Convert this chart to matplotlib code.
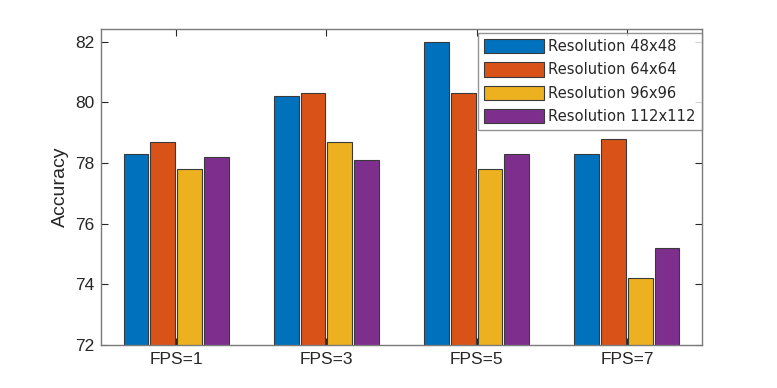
import matplotlib
matplotlib.use("Agg")
import matplotlib.pyplot as plt
import numpy as np

plt.rcParams['font.family'] = ['Liberation Sans', 'DejaVu Sans']

groups = ["FPS=1", "FPS=3", "FPS=5", "FPS=7"]
series_names = ["Resolution 48x48", "Resolution 64x64", "Resolution 96x96", "Resolution 112x112"]
res48 = [78.3, 80.2, 82.0, 78.3]
res64 = [78.7, 80.3, 80.3, 78.8]
res96 = [77.8, 78.7, 77.8, 74.2]
res112 = [78.2, 78.1, 78.3, 75.2]
yticks = [72, 74, 76, 78, 80, 82]

colors = ["#0072BD", "#D95319", "#EDB120", "#7E2F8E"]
series = [res48, res64, res96, res112]

fig = plt.figure(figsize=(7.77, 3.88), dpi=100)
ax = fig.add_axes([101/777, 1-345/388, (702-101)/777, (345-29)/388])

x = np.arange(1, len(groups)+1)
slot = 0.178
width = 0.165
for i, (vals, name, c) in enumerate(zip(series, series_names, colors)):
    ax.bar(x + (i-1.5)*slot, vals, width=width, color=c, edgecolor="#3a3a3a",
           linewidth=0.8, label=name)

ax.set_ylim(72, 82.42)
ax.set_xlim(0.5, 4.5)
ax.set_xticks(x)
ax.set_xticklabels(groups)
ax.set_yticks(yticks)
ax.set_ylabel("Accuracy", fontsize=14, color="#262626", labelpad=4)
ax.tick_params(direction="in", top=True, right=True, labelsize=12.5, colors="#262626",
               length=5, width=0.8, pad=5)
for s in ax.spines.values():
    s.set_color("#7a7a7a")
    s.set_linewidth(1.0)

lx0 = (478 - 101) / 601
ltop = 1 - (33 - 29) / 316
leg = ax.legend(loc="upper right", bbox_to_anchor=(lx0, 0.3, 1.0 - lx0, ltop - 0.3),
                mode="expand", prop={"family": "DejaVu Sans", "size": 10.6},
                handlelength=4.05, handleheight=1.12, borderaxespad=0.0, frameon=True,
                fancybox=False, labelspacing=0.56, handletextpad=0.33, borderpad=0.4)
leg.get_frame().set_edgecolor("#7a7a7a")
leg.get_frame().set_linewidth(1.0)
for t in leg.get_texts():
    t.set_color("#262626")

fig.savefig("out.png", dpi=100)
